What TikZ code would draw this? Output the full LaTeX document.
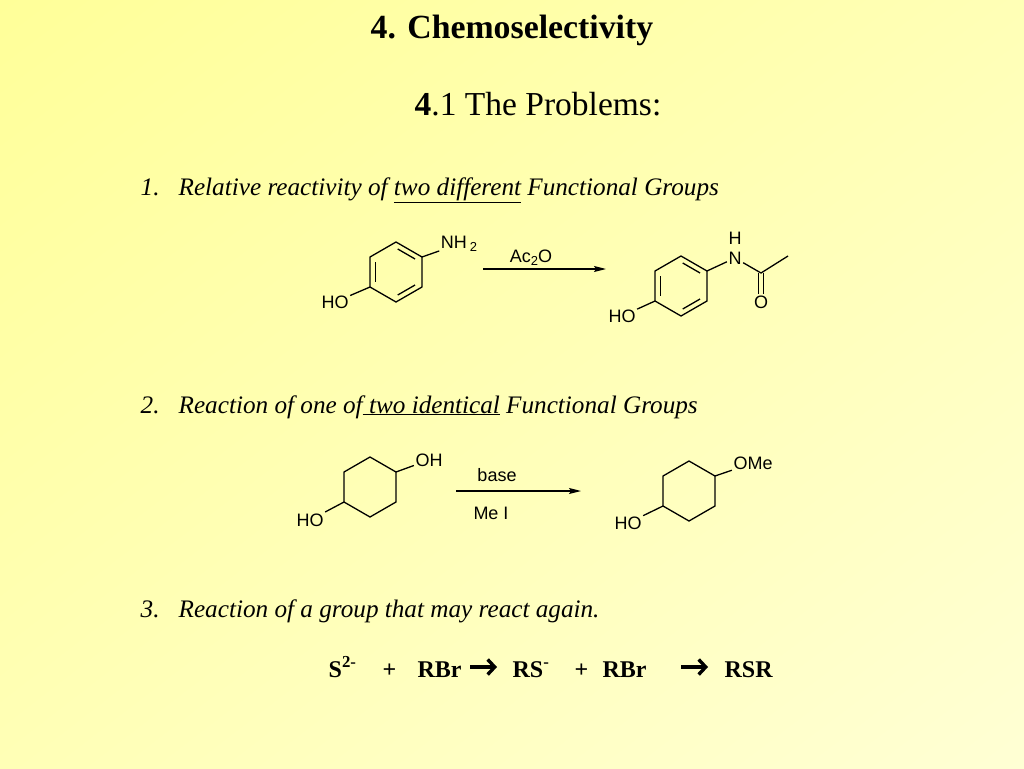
\documentclass[tikz,border=0pt]{standalone}
\usepackage{fontspec}
\setmainfont{Liberation Serif}
\newfontfamily\chemfont{Liberation Sans}
\usetikzlibrary{arrows.meta,calc,shadings}
\definecolor{slideA}{HTML}{FFFF99}
\definecolor{slideM}{HTML}{FFFFB6}
\definecolor{slideB}{HTML}{FFFFD4}
\newcommand{\chsub}[1]{\raisebox{-0.35ex}{\fontsize{13}{13}\selectfont #1}}
\tikzset{every picture/.style = {x=1pt, y=-1pt, line width=1.3pt}}
\tikzset{atom/.style = {font=\chemfont\fontsize{18}{18}\selectfont, inner sep=1pt}}
\tikzset{item/.style = {font=\itshape\fontsize{25.2}{28}\selectfont, anchor=base west, inner sep=0pt}}
\tikzset{eqn/.style = {font=\bfseries\fontsize{24}{26}\selectfont, anchor=base west, inner sep=0pt}}
\tikzset{rxn/.style = {-{Stealth[length=12pt, width=6pt, inset=2pt]}}}
\tikzset{eqarrow/.style = {line width=3.4pt, -{Straight Barb[length=7pt, width=15pt]}}}
\begin{document}
\begin{tikzpicture}
  \shade[upper left=slideA, upper right=slideM, lower left=slideM, lower right=slideB]
    (0, 0) rectangle (1024, 768);
  % headings
  \node[font=\bfseries\fontsize{33.8}{36}\selectfont, anchor=base] (title) at (512, 39) {4. Chemoselectivity};
  \node[font=\fontsize{33.5}{36}\selectfont, anchor=base] (sub) at (538, 115) {\textbf{4}.1 The Problems:};
  \node[item] (n1) at (140, 195) {1.};
  \node[item] (t1) at (178, 195) {Relative reactivity of \underline{two different} Functional Groups};
  \node[item] (n2) at (140, 413) {2.};
  \node[item] (t2) at (178, 413) {Reaction of one of\underline{ two identical} Functional Groups};
  \node[item] (n3) at (140, 617) {3.};
  \node[item] (t3) at (178, 617) {Reaction of a group that may react again.};
  % ring corners
  \foreach \r/\cx/\cy in {a/396/272, b/681/286, c/370/487, d/689/491} {
    \coordinate (\r c) at (\cx, \cy);
    \foreach \i/\ang in {1/-90, 2/-30, 3/30, 4/90, 5/150, 6/210} {
      \coordinate (\r\i) at ($(\cx, \cy) + (\ang:30)$);
      \coordinate (\r i\i) at ($(\cx, \cy) + (\ang:24)$);
    }
    \draw (\r1) -- (\r2) -- (\r3) -- (\r4) -- (\r5) -- (\r6) -- cycle;
  }
  \foreach \r in {a, b} {
    \draw[shorten <=2pt, shorten >=2pt] (\r i6) -- (\r i5);
    \draw[shorten <=2pt, shorten >=2pt] (\r i1) -- (\r i2);
    \draw[shorten <=2pt, shorten >=2pt] (\r i3) -- (\r i4);
  }
  % reaction 1
  \node[atom] (nh2) at (459, 244) {NH\,\chsub{2}};
  \node[atom] (hoa) at (335, 302) {HO};
  \draw (a2) -- (nh2);
  \draw (a5) -- (hoa);
  \coordinate (ra) at (483, 269);
  \coordinate (rb) at (606, 269);
  \draw[rxn] (ra) -- (rb);
  \node[atom] (ac2o) at (531, 258) {Ac\chsub{2}O};
  \node[atom] (hob) at (622, 316) {HO};
  \node[atom] (nam) at (735, 258) {N};
  \node[atom] (ham) at (735, 238) {H};
  \coordinate (co) at (761, 273);
  \coordinate (me) at (788, 256);
  \node[atom] (oam) at (761, 302) {O};
  \draw (b5) -- (hob);
  \draw (b2) -- (nam);
  \draw (nam) -- (co) -- (me);
  \draw ([xshift=-2.8pt]co) -- ([xshift=-2.8pt]oam.north);
  \draw ([xshift=2.8pt]co) -- ([xshift=2.8pt]oam.north);
  % reaction 2
  \node[atom] (ohc) at (429, 460) {OH};
  \node[atom] (hoc) at (310, 520) {HO};
  \draw (c2) -- (ohc);
  \draw (c5) -- (hoc);
  \coordinate (rc) at (456, 491);
  \coordinate (rd) at (581, 491);
  \draw[rxn] (rc) -- (rd);
  \node[atom] (base) at (497, 475) {base};
  \node[atom] (mei) at (491, 513) {Me I};
  \node[atom] (omed) at (753, 463) {OMe};
  \node[atom] (hod) at (628, 523) {HO};
  \draw (d2) -- (omed);
  \draw (d5) -- (hod);
  % reaction 3
  \node[eqn] (s2) at (328, 677) {S\textsuperscript{2-}};
  \node[eqn] (pl1) at (382, 677) {+};
  \node[eqn] (rbr1) at (417, 677) {RBr};
  \node[eqn] (rs) at (512, 677) {RS\textsuperscript{-}};
  \node[eqn] (pl2) at (574, 677) {+};
  \node[eqn] (rbr2) at (602, 677) {RBr};
  \node[eqn] (rsr) at (724, 677) {RSR};
  \coordinate (ea) at (470, 667);
  \coordinate (eb) at (497, 667);
  \coordinate (ec) at (681, 667);
  \coordinate (ed) at (708, 667);
  \draw[eqarrow] (ea) -- (eb);
  \draw[eqarrow] (ec) -- (ed);
\end{tikzpicture}
\end{document}
